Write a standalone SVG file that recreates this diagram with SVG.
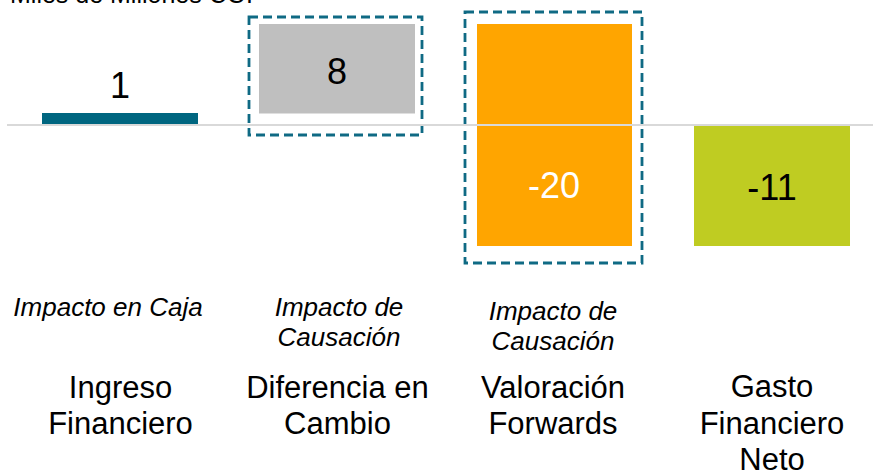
<svg xmlns="http://www.w3.org/2000/svg" width="873" height="472" viewBox="0 0 873 472">
<style>
text{font-family:"Liberation Sans",Arial,sans-serif;fill:#000}
.num{font-size:36px;text-anchor:middle}
.cat{font-size:31px;text-anchor:middle}
.it{font-size:26px;font-style:italic;text-anchor:middle}
.box{fill:none;stroke:#0f6a84;stroke-width:2.8;stroke-dasharray:9 5}
</style>
<rect width="873" height="472" fill="#fff"/>
<text x="10" y="3" font-size="25">Miles de Millones COP</text>
<g id="bar-ingreso">
<rect x="42" y="113" width="156" height="11" fill="#006680"/>
<text class="num" x="120" y="98">1</text>
<text class="it" x="108" y="316">Impacto en Caja</text>
<text class="cat" x="120.5" y="398">Ingreso</text>
<text class="cat" x="120.5" y="434">Financiero</text>
</g>
<g id="bar-diferencia">
<rect class="box" x="249" y="17" width="173" height="118"/>
<rect x="259" y="24" width="156" height="89.5" fill="#bfbfbf"/>
<text class="num" x="337" y="83.5">8</text>
<text class="it" x="339" y="316">Impacto de</text>
<text class="it" x="339" y="346">Causación</text>
<text class="cat" x="337.5" y="398">Diferencia en</text>
<text class="cat" x="337.5" y="434">Cambio</text>
</g>
<g id="bar-valoracion">
<rect class="box" x="465" y="12" width="177" height="251"/>
<rect x="477" y="24" width="155" height="222" fill="#ffa500"/>
<text class="num" x="554" y="197.5" style="fill:#fff">-20</text>
<text class="it" x="553" y="320">Impacto de</text>
<text class="it" x="553" y="350">Causación</text>
<text class="cat" x="553" y="398">Valoración</text>
<text class="cat" x="553" y="434">Forwards</text>
</g>
<g id="bar-gasto">
<rect x="694" y="126" width="156" height="120" fill="#bfcc22"/>
<text class="num" x="772" y="200">-11</text>
<text class="cat" x="772" y="397">Gasto</text>
<text class="cat" x="772" y="434">Financiero</text>
<text class="cat" x="772" y="470">Neto</text>
</g>
<g id="axis">
<line x1="7" y1="125" x2="873" y2="125" stroke="#d9d9d9" stroke-width="2"/>
</g>
</svg>
